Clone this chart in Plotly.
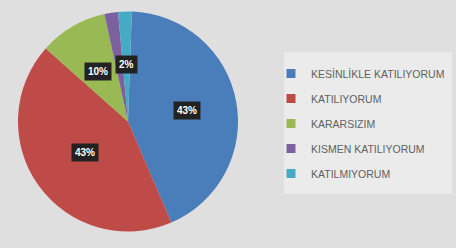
import numpy as np
import plotly.graph_objects as go

labels = ["KESİNLİKLE KATILIYORUM", "KATILIYORUM", "KARARSIZIM", "KISMEN KATILIYORUM", "KATILMIYORUM"]
values = [43, 43, 10, 2, 2]
label_text = ["43%", "43%", "10%", "", "2%"]
colors = ["#4A7EBB", "#BE4B48", "#98B954", "#7D60A0", "#46AAC5"]

W, H = 456, 248
dom_x = [18 / W, 238 / W]
dom_y = [1 - 235 / H, 1 - 8 / H]

fig = go.Figure(go.Pie(
    labels=labels,
    values=values,
    sort=False,
    direction="clockwise",
    rotation=2,
    marker=dict(colors=colors, line=dict(width=0)),
    textinfo="none",
    hoverinfo="label+percent",
    domain=dict(x=dom_x, y=dom_y),
    showlegend=False,
))

# legend entries (one per category, no drawn points)
for lab, col in zip(labels, colors):
    fig.add_trace(go.Scatter(
        x=[None], y=[None], mode="markers", name=lab, legendgroup=lab,
        marker=dict(symbol="square", size=9, color=col), showlegend=True,
    ))

# label boxes at the middle of each slice, computed from the data
cx = (dom_x[0] + dom_x[1]) / 2 * W
cy = (1 - (dom_y[0] + dom_y[1]) / 2) * H
R = min((dom_x[1] - dom_x[0]) * W, (dom_y[1] - dom_y[0]) * H) / 2
vals = np.array(values, dtype=float)
cum = np.cumsum(vals) - vals / 2
mid = cum / vals.sum() * 2 * np.pi + np.deg2rad(2)
rfrac = [0.55, 0.48, 0.53, 0.5, 0.52]
for i, t in enumerate(label_text):
    if not t:
        continue
    px = cx + rfrac[i] * R * np.sin(mid[i])
    py = cy - rfrac[i] * R * np.cos(mid[i])
    fig.add_annotation(
        x=px / W, y=1 - py / H, xref="paper", yref="paper",
        xanchor="center", yanchor="middle",
        text="<b>" + t + "</b>", showarrow=False,
        font=dict(color="white", size=10, family="Liberation Sans"),
        bgcolor="#222222", borderpad=3,
    )

fig.add_shape(type="rect", xref="paper", yref="paper",
              x0=284 / W, x1=452 / W, y0=1 - 194 / H, y1=1 - 52 / H,
              fillcolor="#ebebeb", line=dict(width=0), layer="below")

fig.update_layout(
    width=W, height=H,
    margin=dict(l=0, r=0, t=0, b=0),
    paper_bgcolor="#dfdfdf",
    plot_bgcolor="rgba(0,0,0,0)",
    xaxis=dict(visible=False),
    yaxis=dict(visible=False),
    showlegend=True,
    legend=dict(
        x=271 / W, y=1 - 59 / H, xanchor="left", yanchor="top",
        font=dict(size=10.5, color="#5f5f5f", family="Liberation Sans"),
        bgcolor="rgba(0,0,0,0)", itemwidth=30,
        tracegroupgap=6,
    ),
)

fig.write_html("out.html", config={"displayModeBar": False},
               post_script="document.body.style.margin='0';")
